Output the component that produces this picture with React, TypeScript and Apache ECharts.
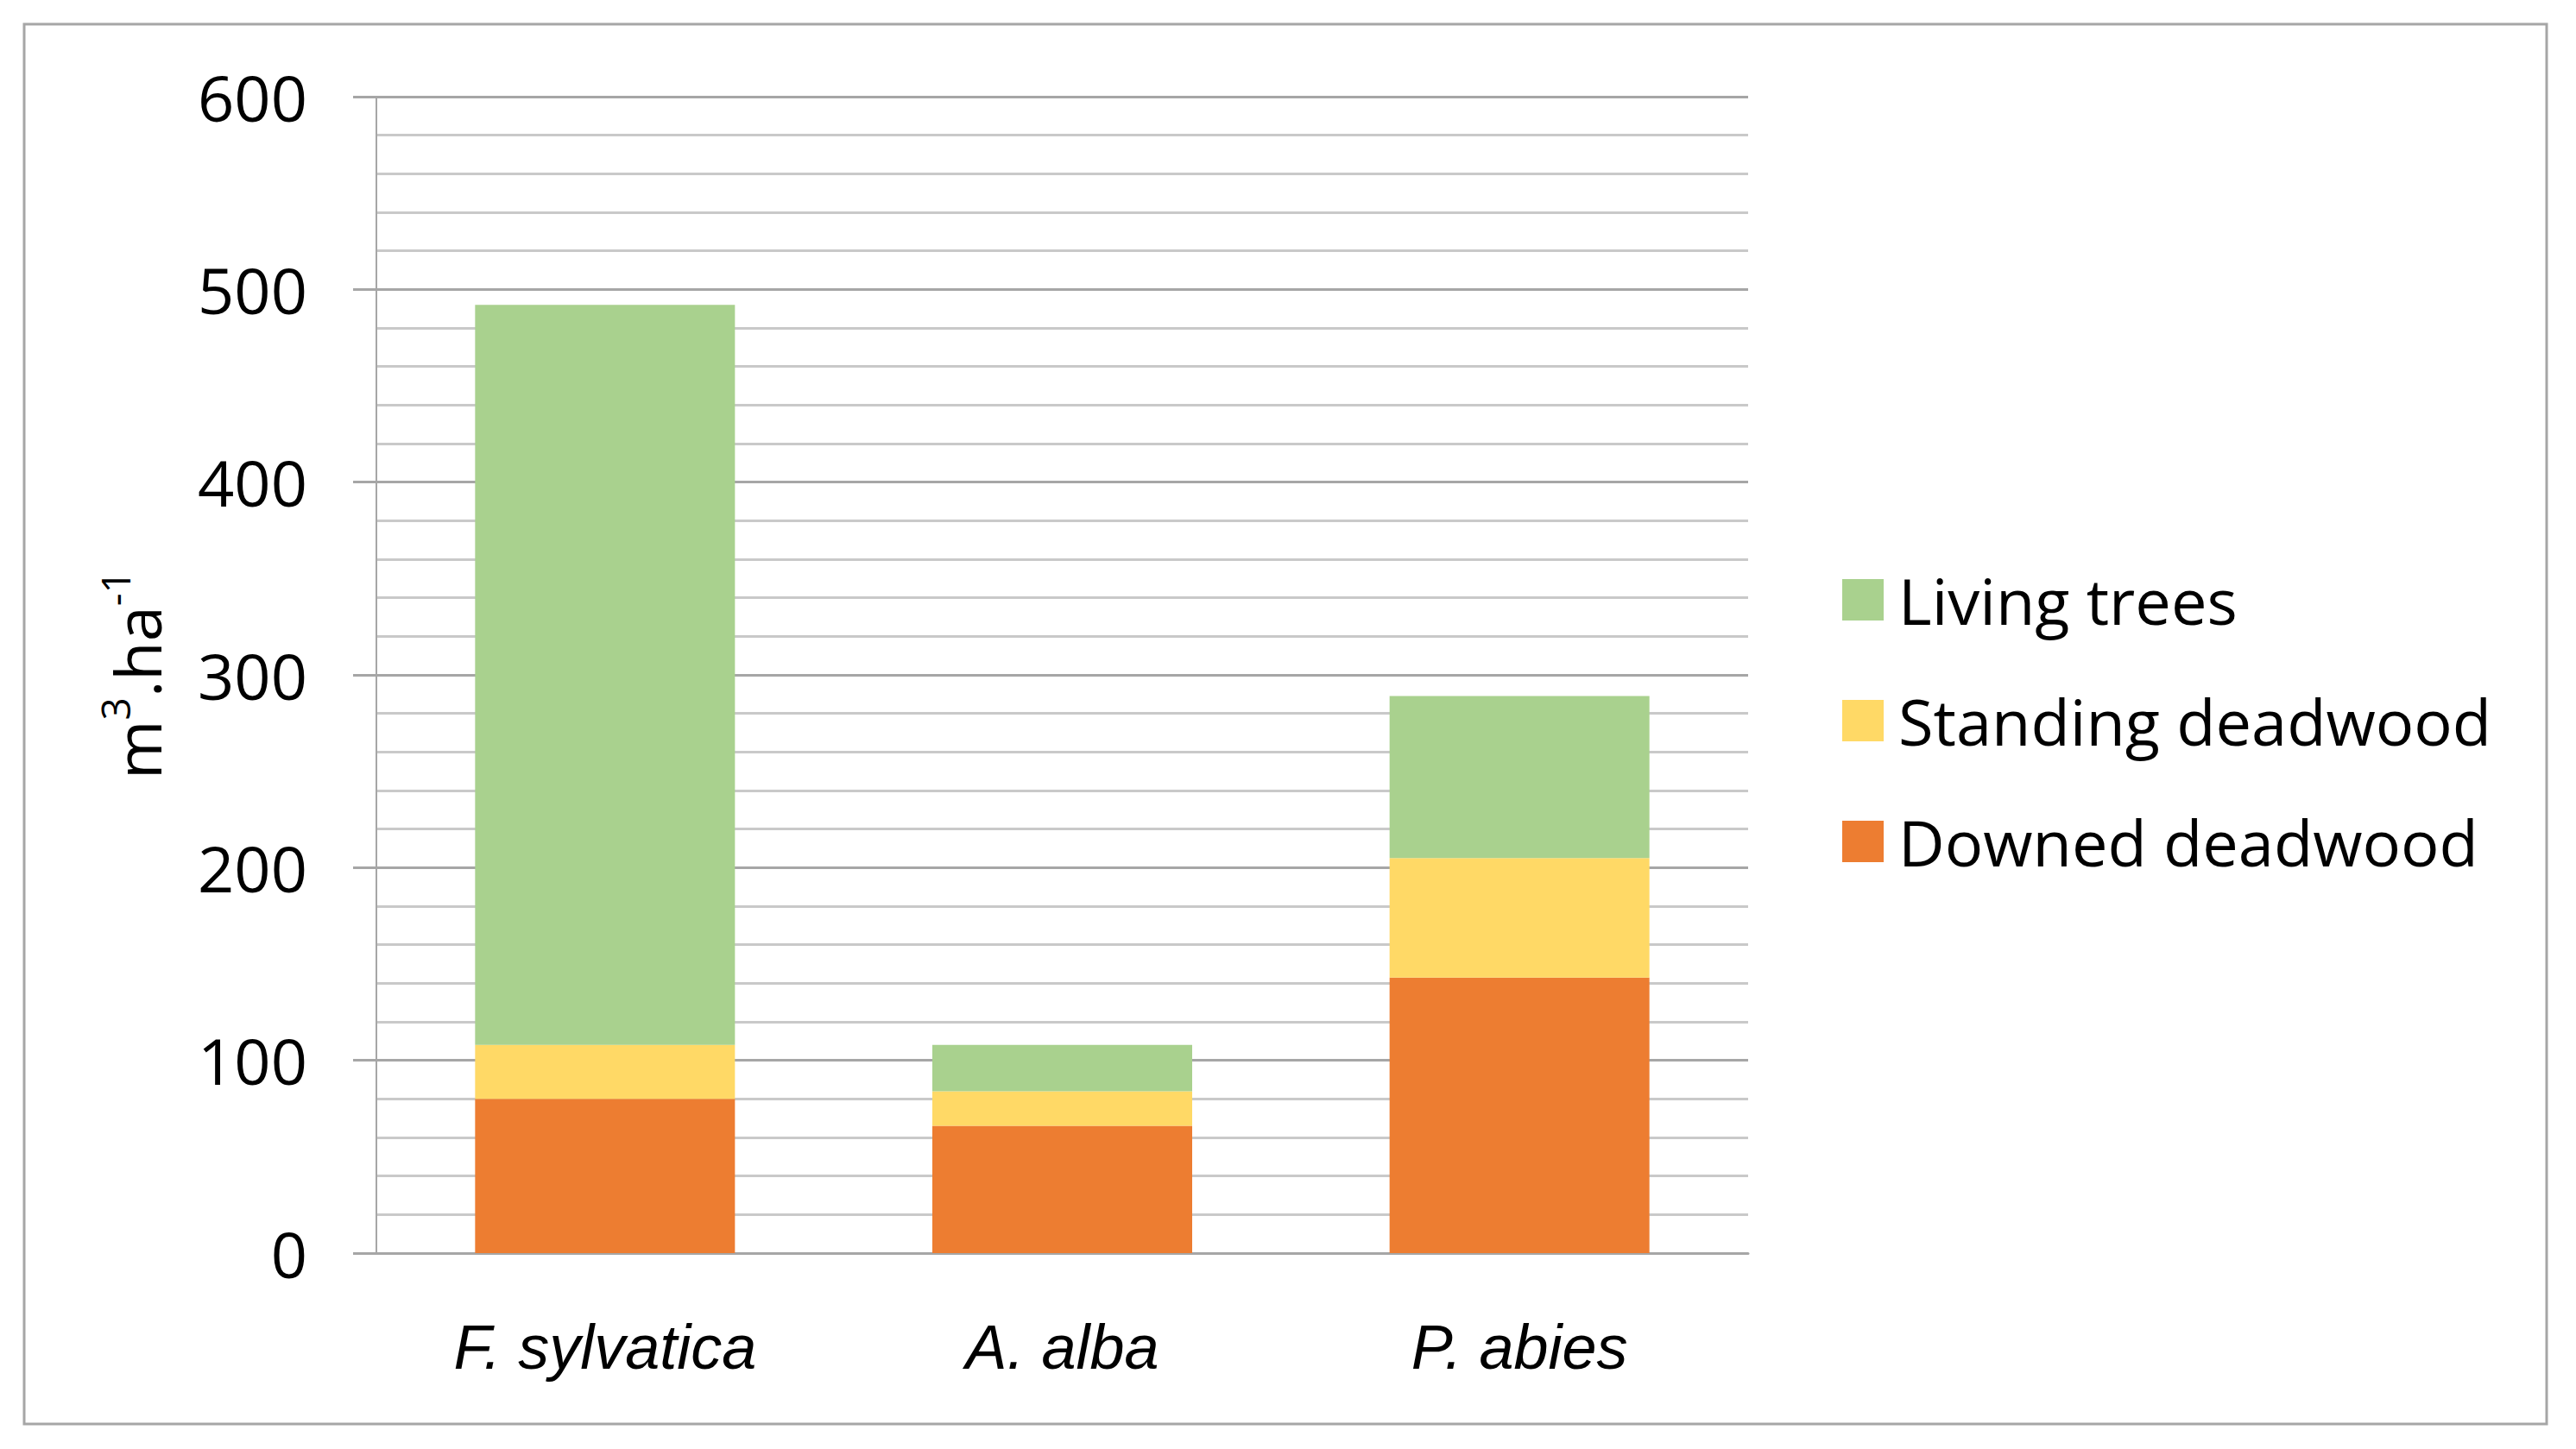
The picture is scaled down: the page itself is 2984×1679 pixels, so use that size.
import React, { useEffect, useRef } from "react";
import * as echarts from "echarts";

const categories = ["F. sylvatica", "A. alba", "P. abies"];
const downedDeadwood = [80, 66, 143];
const standingDeadwood = [28, 18, 62];
const livingTrees = [384, 24, 84];
const legendOrder = ["Living trees", "Standing deadwood", "Downed deadwood"];

const COLORS = {
  living: "#A9D18E",
  standing: "#FFD966",
  downed: "#ED7D31",
};

export default function App() {
  const ref = useRef<HTMLDivElement>(null);

  useEffect(() => {
    document.body.style.margin = "0";
    const chart = echarts.init(ref.current!, null, { renderer: "svg" });
    const option: any = {
      animation: false,
      backgroundColor: "#ffffff",
      grid: { left: 436, right: 959, top: 112, bottom: 227, containLabel: false },
      legend: {
        data: legendOrder,
        orient: "vertical",
        left: 2129,
        top: 650,
        itemWidth: 48,
        itemHeight: 48,
        itemGap: 60,
        icon: "rect",
        textStyle: {
          fontFamily: "Open Sans",
          fontSize: 74,
          color: "#000000",
          lineHeight: 80,
          padding: [0, 0, 0, 12],
        },
      },
      xAxis: {
        type: "category",
        data: categories,
        axisLine: { show: true, lineStyle: { color: "#a6a6a6", width: 3 } },
        axisTick: { show: false },
        axisLabel: {
          margin: 73,
          fontFamily: "Liberation Sans",
          fontStyle: "italic",
          fontSize: 72,
          color: "#000000",
        },
      },
      yAxis: {
        type: "value",
        min: 0,
        max: 600,
        interval: 100,
        axisLine: { show: true, lineStyle: { color: "#a6a6a6", width: 2 } },
        axisTick: { show: true, length: 27, lineStyle: { color: "#a6a6a6", width: 3 } },
        minorTick: { show: false, splitNumber: 5 },
        splitLine: { show: true, lineStyle: { color: "#a6a6a6", width: 3 } },
        minorSplitLine: { show: true, lineStyle: { color: "#c9c9c9", width: 3 } },
        axisLabel: {
          margin: 80,
          fontFamily: "Open Sans",
          fontSize: 74,
          color: "#000000",
        },
      },
      series: [
        {
          name: "Downed deadwood",
          type: "bar",
          stack: "total",
          data: downedDeadwood,
          barWidth: 301,
          itemStyle: { color: COLORS.downed },
        },
        {
          name: "Standing deadwood",
          type: "bar",
          stack: "total",
          data: standingDeadwood,
          barWidth: 301,
          itemStyle: { color: COLORS.standing },
        },
        {
          name: "Living trees",
          type: "bar",
          stack: "total",
          data: livingTrees,
          barWidth: 301,
          itemStyle: { color: COLORS.living },
        },
      ],
      graphic: [
        {
          type: "rect",
          shape: { x: 28, y: 28, width: 2922, height: 1622 },
          style: { fill: "none", stroke: "#a6a6a6", lineWidth: 3 },
          silent: true,
        },
        {
          type: "text",
          x: 158,
          y: 782,
          rotation: Math.PI / 2,
          style: {
            text: "{n|m}{s|3}{n|.ha}{s|-1}",
            align: "center",
            verticalAlign: "middle",
            fill: "#000000",
            rich: {
              n: { fontFamily: "Open Sans", fontSize: 74, lineHeight: 96, fill: "#000000" },
              s: { fontFamily: "Open Sans", fontSize: 46, verticalAlign: "top", fill: "#000000" },
            },
          },
        },
      ],
    };
    chart.setOption(option);
    return () => chart.dispose();
  }, []);

  return (
    <div
      ref={ref}
      style={{ position: "absolute", left: 0, top: 0, width: 2984, height: 1679 }}
    />
  );
}
